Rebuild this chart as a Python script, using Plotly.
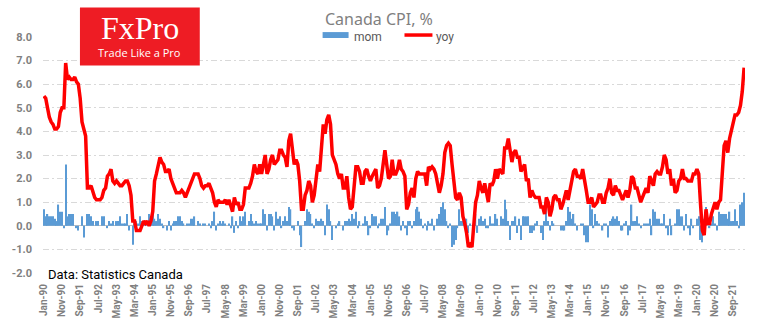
import plotly.graph_objects as go
import pandas as pd

# ---------------- data ----------------
months = list(pd.date_range("1990-01-01", periods=387, freq="MS").strftime("%b-%y"))

yoy = [
    5.5, 5.4, 5.0, 4.6, 4.4, 4.3, 4.1, 4.1, 4.2, 4.8, 5.0, 5.0,   # 1990
    6.9, 6.2, 6.3, 6.2, 6.2, 6.3, 6.1, 6.0, 5.4, 4.4, 4.1, 3.8,   # 1991
    1.6, 1.6, 1.7, 1.4, 1.2, 1.1, 1.1, 1.1, 1.2, 1.5, 1.6, 2.1,   # 1992
    2.2, 2.4, 1.9, 1.8, 1.9, 1.8, 1.7, 1.7, 1.8, 1.9, 1.9, 1.7,   # 1993
    1.3, 0.2, 0.2, -0.2, -0.2, -0.2, 0.0, 0.2, 0.1, 0.2, 0.0, 0.2,  # 1994
    0.6, 1.9, 2.2, 2.5, 2.9, 2.7, 2.6, 2.3, 2.3, 2.4, 2.0, 1.8,   # 1995
    1.6, 1.4, 1.4, 1.4, 1.5, 1.4, 1.2, 1.4, 1.5, 1.7, 2.0, 2.2,   # 1996
    2.2, 2.2, 2.0, 1.7, 1.6, 1.7, 1.7, 1.8, 1.6, 1.4, 1.0, 0.8,   # 1997
    1.1, 1.0, 1.0, 1.0, 1.1, 0.9, 1.1, 0.8, 0.6, 1.2, 0.9, 1.0,   # 1998
    0.7, 0.7, 0.9, 1.6, 1.6, 1.6, 1.8, 2.1, 2.6, 2.3, 2.2, 2.6,   # 1999
    2.2, 2.7, 3.0, 2.2, 2.4, 2.8, 3.0, 2.6, 2.7, 2.8, 3.2, 3.2,   # 2000
    3.0, 2.9, 2.5, 3.6, 3.9, 3.3, 2.6, 2.8, 2.6, 1.9, 0.7, 0.7,   # 2001
    1.3, 1.5, 1.9, 1.7, 1.0, 1.3, 2.1, 2.6, 2.3, 3.2, 4.3, 3.9,   # 2002
    4.5, 4.7, 4.3, 3.0, 2.8, 2.6, 2.2, 2.0, 2.2, 1.6, 1.6, 2.1,   # 2003
    1.2, 0.7, 0.8, 1.6, 2.5, 2.5, 2.3, 1.8, 1.8, 2.3, 2.4, 2.1,   # 2004
    1.9, 2.1, 2.3, 2.4, 1.6, 1.7, 2.0, 2.6, 3.2, 2.6, 2.0, 2.1,   # 2005
    2.8, 2.2, 2.2, 2.4, 2.8, 2.4, 2.3, 2.1, 0.7, 0.9, 1.4, 1.6,   # 2006
    1.2, 2.0, 2.3, 2.2, 2.2, 2.2, 2.2, 1.7, 2.5, 2.4, 2.5, 2.4,   # 2007
    2.2, 1.8, 1.4, 1.7, 2.2, 3.1, 3.4, 3.5, 3.4, 2.6, 2.0, 1.2,   # 2008
    1.1, 1.4, 1.2, 0.4, 0.1, -0.3, -0.9, -0.8, -0.9, 0.1, 1.0, 1.3,  # 2009
    1.9, 1.6, 1.4, 1.8, 1.4, 1.0, 1.8, 1.7, 1.9, 2.4, 2.0, 2.4,   # 2010
    2.3, 2.2, 3.3, 3.3, 3.7, 3.1, 2.7, 3.1, 3.2, 2.9, 2.9, 2.3,   # 2011
    2.5, 2.6, 1.9, 2.0, 1.2, 1.5, 1.3, 1.2, 1.2, 1.2, 0.8, 0.8,   # 2012
    0.5, 1.2, 1.0, 0.4, 0.7, 1.2, 1.3, 1.1, 1.1, 0.7, 0.9, 1.2,   # 2013
    1.5, 1.1, 1.5, 2.0, 2.3, 2.4, 2.1, 2.1, 2.0, 2.4, 2.0, 1.5,   # 2014
    1.0, 1.0, 1.2, 0.8, 0.9, 1.0, 1.3, 1.3, 1.0, 1.0, 1.4, 1.6,   # 2015
    2.0, 1.4, 1.3, 1.7, 1.5, 1.5, 1.3, 1.1, 1.3, 1.5, 1.2, 1.5,   # 2016
    2.1, 2.0, 1.6, 1.6, 1.3, 1.0, 1.2, 1.4, 1.6, 1.4, 2.1, 1.9,   # 2017
    1.7, 2.2, 2.3, 2.2, 2.2, 2.5, 3.0, 2.8, 2.2, 2.4, 1.7, 2.0,   # 2018
    1.4, 1.5, 1.9, 2.0, 2.4, 2.0, 2.0, 1.9, 1.9, 1.9, 2.2, 2.2,   # 2019
    2.4, 2.2, 0.9, -0.2, -0.4, 0.7, 0.1, 0.1, 0.5, 0.7, 1.0, 0.7,  # 2020
    1.0, 1.1, 2.2, 3.4, 3.6, 3.1, 3.7, 4.1, 4.4, 4.7, 4.7, 4.8,   # 2021
    5.1, 5.7, 6.7,                                                # 2022
]

mom = [
    0.7, 0.4, 0.5, 0.4, 0.4, 0.4, 0.3, 0.2, 0.9, 0.6, 0.6, -0.1,   # 1990
    2.6, 0.4, 0.5, 0.5, 0.5, 0.0, -0.1, -0.2, 0.0, 0.4, -0.5, 0.0,  # 1991
    0.5, 0.5, 0.4, 0.2, 0.0, 0.2, 0.2, 0.0, 0.4, 0.4, 0.0, -0.1,   # 1992
    0.2, 0.1, 0.2, 0.0, 0.2, 0.2, 0.4, 0.1, 0.1, 0.1, 0.5, -0.2,   # 1993
    0.0, -0.8, 0.1, 0.2, 0.1, 0.4, 0.2, 0.1, 0.0, 0.1, 0.5, 0.1,   # 1994
    0.5, 0.3, 0.2, 0.5, 0.3, 0.1, -0.1, 0.0, -0.2, 0.2, -0.2, 0.1,  # 1995
    0.2, 0.2, 0.4, 0.4, 0.2, 0.1, 0.0, 0.1, 0.1, 0.3, 0.3, 0.4,    # 1996
    0.0, 0.2, 0.1, 0.0, 0.1, 0.1, 0.0, 0.1, -0.1, 0.2, 0.6, -0.2,  # 1997
    0.1, 0.2, 0.1, 0.2, 0.1, 0.0, 0.1, -0.1, 0.4, -0.3, 0.2, -0.1,  # 1998
    0.4, 0.2, 0.4, 0.6, 0.0, 0.2, 0.5, 0.2, 0.1, 0.2, 0.1, 0.1,    # 1999
    0.1, 0.7, 0.5, -0.2, 0.5, 0.5, 0.4, -0.2, 0.6, 0.3, 0.4, -0.1,  # 2000
    0.2, 0.4, 0.2, 0.8, 0.7, -0.1, -0.2, 0.0, 0.2, -0.4, -0.9, 0.0,  # 2001
    0.2, 0.7, 0.6, 0.5, 0.1, -0.1, 0.3, 0.2, 0.2, 0.3, 0.2, -0.4,  # 2002
    0.9, 0.7, 0.2, -0.6, 0.0, -0.1, 0.1, 0.2, 0.0, -0.2, 0.2, 0.2,  # 2003
    0.3, 0.2, 0.5, 0.3, 0.6, -0.1, 0.2, 0.0, 0.1, 0.4, 0.2, -0.4,  # 2004
    -0.1, 0.5, 0.4, 0.4, -0.1, 0.1, 0.3, 0.3, 0.8, -0.4, -0.2, 0.1,  # 2005
    0.6, 0.6, 0.5, 0.6, 0.4, -0.2, 0.2, -0.1, -0.4, 0.2, 0.2, -0.1,  # 2006
    0.2, 0.7, 0.8, 0.6, 0.3, -0.1, 0.1, -0.2, 0.2, 0.1, 0.3, -0.2,  # 2007
    0.0, 0.3, 0.5, 0.8, 1.0, 0.7, 0.2, -0.1, 0.1, -0.9, -0.8, -0.6,  # 2008
    -0.1, 0.7, 0.2, 0.2, 0.3, 0.3, -0.3, 0.1, 0.0, 0.1, 0.5, -0.3,  # 2009
    0.3, 0.4, 0.2, 0.3, -0.1, -0.1, 0.4, 0.1, 0.1, 0.5, 0.3, 0.0,  # 2010
    0.4, 0.3, 1.1, 0.7, 0.2, -0.6, 0.2, 0.2, 0.4, -0.3, 0.3, -0.6,  # 2011
    0.4, 0.4, 0.4, 0.4, -0.3, -0.3, -0.2, 0.1, 0.2, 0.0, -0.3, -0.6,  # 2012
    0.2, 0.8, 0.2, -0.2, 0.2, 0.1, 0.0, 0.0, 0.0, -0.2, -0.2, -0.2,  # 2013
    0.2, 0.8, 0.6, 0.3, 0.5, 0.1, -0.2, 0.0, 0.1, 0.1, -0.4, -0.7,  # 2014
    -0.7, 0.9, 0.7, -0.1, 0.5, 0.2, 0.1, 0.0, -0.2, 0.1, 0.1, -0.5,  # 2015
    0.2, 0.3, 0.4, 0.3, 0.4, 0.2, -0.2, -0.2, 0.1, 0.2, -0.4, -0.2,  # 2016
    0.9, 0.2, 0.2, 0.4, 0.1, -0.1, 0.0, 0.1, 0.1, 0.1, 0.3, -0.4,  # 2017
    0.7, 0.6, 0.3, 0.3, 0.1, 0.1, 0.5, -0.1, -0.4, 0.3, -0.4, 0.0,  # 2018
    0.1, 0.7, 0.7, 0.4, 0.4, -0.2, 0.5, -0.1, -0.4, 0.3, -0.1, 0.0,  # 2019
    0.3, 0.4, -0.6, -0.7, 0.3, 0.8, 0.0, -0.1, 0.1, 0.4, 0.1, -0.2,  # 2020
    0.6, 0.5, 0.5, 0.5, 0.5, 0.3, 0.6, 0.2, 0.2, 0.7, 0.2, -0.1,  # 2021
    0.9, 1.0, 1.4,                                                 # 2022
]

y_ticks = [-2.0, -1.0, 0.0, 1.0, 2.0, 3.0, 4.0, 5.0, 6.0, 7.0, 8.0]
x_tick_step = 10

title_text = "Canada CPI, %"
source_text = "Data: Statistics Canada"

# ---------------- layout geometry ----------------
W, H = 770, 330
L, R, T, B = 42, 25, 37, 53
PW, PH = W - L - R, H - T - B


def px(x):
    return (x - L) / PW


def py(y):
    return (H - B - y) / PH


idx = list(range(len(months)))
tickvals = idx[::x_tick_step]
ticktext = [months[i] for i in tickvals]

fig = go.Figure()
fig.add_trace(go.Bar(x=idx, y=mom, name="mom", marker=dict(color="#5B9BD5", line=dict(width=0))))
fig.add_trace(go.Scatter(x=idx, y=yoy, name="yoy", mode="lines",
                         line=dict(color="#FF0000", width=3.5)))

fig.update_layout(
    width=W, height=H,
    margin=dict(l=L, r=R, t=T, b=B, pad=0),
    paper_bgcolor="white", plot_bgcolor="white",
    showlegend=False,
    bargap=0.3,
    font=dict(family="Roboto, sans-serif", color="#7F7F7F"),
)

fig.update_xaxes(
    range=[-0.5, len(months) - 0.5],
    tickmode="array", tickvals=tickvals, ticktext=ticktext,
    tickangle=-90, showgrid=False, zeroline=False, showline=False, ticks="",
    tickfont=dict(size=10, color="#808080", family="Roboto", weight="bold"),
    ticklabelstandoff=8,
)
fig.update_yaxes(
    range=[-2.0, 8.0],
    tickmode="array", tickvals=y_ticks, ticktext=[f"{v:.1f}" for v in y_ticks],
    showgrid=True, gridcolor="#D9D9D9", gridwidth=1, griddash="6px,3px,2px,3px",
    zeroline=True, zerolinecolor="#BFBFBF", zerolinewidth=1,
    showline=False, ticks="",
    tickfont=dict(size=11, color="#808080", family="Roboto", weight="bold"),
    ticklabelstandoff=10,
)

shapes = []
annotations = []

# Logo
shapes.append(dict(type="rect", xref="paper", yref="paper",
                   x0=px(79), x1=px(199), y0=py(66), y1=py(7),
                   fillcolor="#EE1C24", line=dict(width=0), layer="above"))
annotations.append(dict(text="FxPro", xref="paper", yref="paper", x=px(139), y=py(28),
                        xanchor="center", yanchor="middle", showarrow=False,
                        font=dict(family="Liberation Serif", size=32, color="white")))
annotations.append(dict(text="Trade Like a Pro", xref="paper", yref="paper", x=px(139), y=py(53),
                        xanchor="center", yanchor="middle", showarrow=False,
                        font=dict(family="Open Sans", size=11, color="white")))

# Title
annotations.append(dict(text=title_text, xref="paper", yref="paper", x=px(378), y=py(19),
                        xanchor="center", yanchor="middle", showarrow=False,
                        font=dict(family="Noto Sans", size=16, color="#808080")))

# Custom legend
shapes.append(dict(type="rect", xref="paper", yref="paper",
                   x0=px(322), x1=px(348), y0=py(38), y1=py(32),
                   fillcolor="#5B9BD5", line=dict(width=0), layer="above"))
annotations.append(dict(text="mom", xref="paper", yref="paper", x=px(351), y=py(37),
                        xanchor="left", yanchor="middle", showarrow=False,
                        font=dict(family="Roboto", size=12, color="#595959")))
shapes.append(dict(type="line", xref="paper", yref="paper",
                   x0=px(404), x1=px(432), y0=py(35), y1=py(35),
                   line=dict(color="#FF0000", width=3.5), layer="above"))
annotations.append(dict(text="yoy", xref="paper", yref="paper", x=px(434), y=py(37),
                        xanchor="left", yanchor="middle", showarrow=False,
                        font=dict(family="Roboto", size=12, color="#595959")))

# Source
annotations.append(dict(text=source_text, xref="paper", yref="paper", x=px(45), y=py(279),
                        xanchor="left", yanchor="middle", showarrow=False,
                        font=dict(family="Roboto", size=13, color="#000000")))

fig.update_layout(shapes=shapes, annotations=annotations)

fig.write_html("out.html")
